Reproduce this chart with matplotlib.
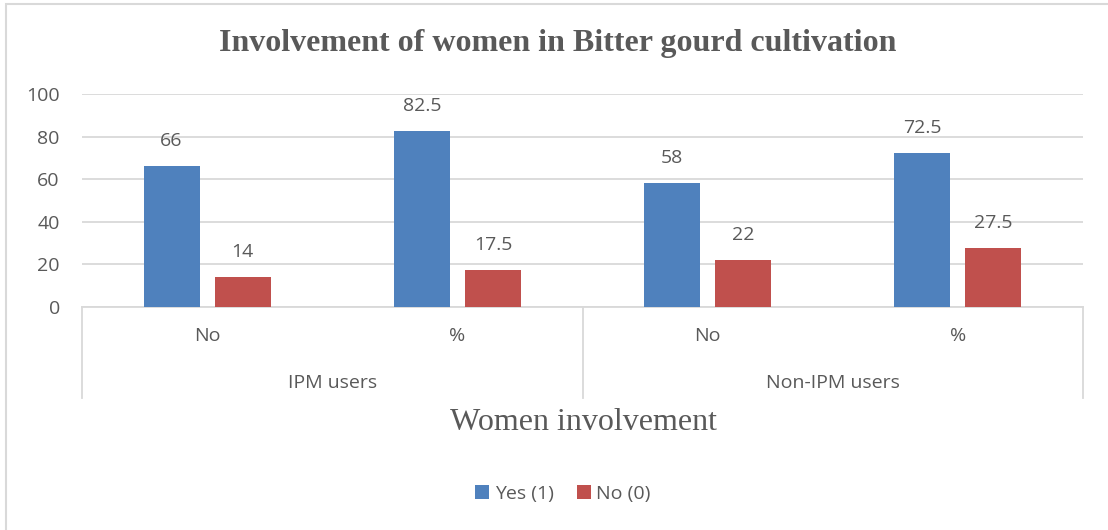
import matplotlib
matplotlib.use("Agg")
import matplotlib.pyplot as plt
from matplotlib.patches import Rectangle
import numpy as np

# Data
categories = ["No", "%", "No", "%"]
groups = ["IPM users", "Non-IPM users"]
yes_values = [66, 82.5, 58, 72.5]
no_values = [14, 17.5, 22, 27.5]
series_names = ["Yes (1)", "No (0)"]
yticks = [0, 20, 40, 60, 80, 100]

BLUE = "#4F81BD"
RED = "#C0504D"
TEXT = "#595959"
GRID = "#D9D9D9"
SANS = ["Open Sans", "DejaVu Sans"]
SERIF = ["Liberation Serif", "DejaVu Serif"]
FS = 14

fig = plt.figure(figsize=(11.08, 5.30), dpi=100)
fig.patch.set_facecolor("white")

# Chart frame (light border)
fig.add_artist(Rectangle((6 / 1108, -0.1), 1.2, 1 - 4 / 530 + 0.1,
                         transform=fig.transFigure, fill=False,
                         edgecolor=GRID, linewidth=1.5))

ax = fig.add_axes([82 / 1108, 1 - 307 / 530, (1083 - 82) / 1108, 213 / 530])

x = np.arange(len(categories))
w = 0.224
off = 0.142
b1 = ax.bar(x - off, yes_values, width=w, color=BLUE, label=series_names[0], zorder=3)
b2 = ax.bar(x + off, no_values, width=w, color=RED, label=series_names[1], zorder=3)

for bars, vals in ((b1, yes_values), (b2, no_values)):
    for rect, v in zip(bars, vals):
        ax.annotate(f"{v:g}", (rect.get_x() + rect.get_width() / 2, v),
                    xytext=(0, 18), textcoords="offset points",
                    ha="center", va="center", fontsize=FS, color=TEXT,
                    family=SANS)

ax.set_xlim(-0.5, len(categories) - 0.5)
ax.set_ylim(0, 100)
ax.set_yticks(yticks)
ax.set_yticklabels([str(t) for t in yticks], family=SANS, fontsize=FS, color=TEXT)
ax.tick_params(axis="y", length=0, pad=16)
ax.set_xticks([])
ax.grid(axis="y", color=GRID, linewidth=1.3, zorder=0)
for s in ("top", "right", "left"):
    ax.spines[s].set_visible(False)
ax.spines["bottom"].set_color(GRID)
ax.spines["bottom"].set_linewidth(1.3)

# Multi-level category axis
trans = ax.get_xaxis_transform()
for xi, lab in zip(x, categories):
    ax.text(xi, -0.136, lab, transform=trans, ha="center", va="center",
            fontsize=FS, color=TEXT, family=SANS)
n_per = len(categories) // len(groups)
for gi, g in enumerate(groups):
    gx = gi * n_per + (n_per - 1) / 2
    ax.text(gx, -0.357, g, transform=trans, ha="center", va="center",
            fontsize=FS, color=TEXT, family=SANS)
for bx in [-0.5 + k * n_per for k in range(len(groups) + 1)]:
    ax.plot([bx, bx], [0, -0.427], transform=trans, color=GRID,
            linewidth=1.3, clip_on=False)

# Titles
fig.text(558 / 1108, 1 - 44 / 530, "Involvement of women in Bitter gourd cultivation",
         ha="center", va="center", fontsize=23, fontweight="bold",
         color=TEXT, family=SERIF)
fig.text(583 / 1108, 1 - 423 / 530, "Women involvement", ha="center", va="center",
         fontsize=23, color=TEXT, family=SERIF)

# Legend
leg = fig.legend(handles=[b1, b2], labels=series_names, loc="center",
                 bbox_to_anchor=(563 / 1108, 1 - 494 / 530), ncol=2, frameon=False,
                 prop={"family": SANS, "size": FS}, handlelength=0.7,
                 handleheight=0.7, handletextpad=0.3, columnspacing=1.2)
for t in leg.get_texts():
    t.set_color(TEXT)

fig.savefig("out.png", dpi=100, facecolor="white")
